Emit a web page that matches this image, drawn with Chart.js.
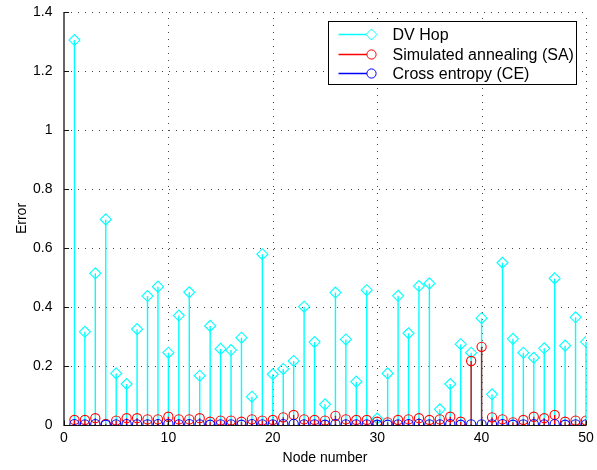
<!DOCTYPE html>
<html>
<head>
<meta charset="utf-8">
<script src="https://cdn.jsdelivr.net/npm/chart.js@4/dist/chart.umd.min.js"></script>
<style>
  html, body { margin: 0; padding: 0; background: #fff; }
  #wrap { width: 597px; height: 470px; position: relative; }
</style>
</head>
<body>
<div id="wrap"><canvas id="c" width="597" height="470"></canvas></div>
<script>
// Localization error per node for three methods
const nodes = Array.from({length: 50}, (_, i) => i + 1);
const dvHop = [1.305, 0.316, 0.514, 0.697, 0.175, 0.139, 0.325, 0.437, 0.469, 0.245,
               0.371, 0.450, 0.167, 0.336, 0.258, 0.254, 0.296, 0.096, 0.579, 0.172,
               0.190, 0.217, 0.401, 0.281, 0.070, 0.449, 0.290, 0.147, 0.457, 0.022,
               0.175, 0.438, 0.311, 0.471, 0.480, 0.053, 0.139, 0.274, 0.245, 0.362,
               0.104, 0.550, 0.292, 0.245, 0.228, 0.260, 0.497, 0.269, 0.365, 0.282];
const saErr = [0.017, 0.017, 0.023, 0.004, 0.015, 0.023, 0.023, 0.019, 0.019, 0.028,
               0.019, 0.019, 0.023, 0.011, 0.015, 0.015, 0.011, 0.019, 0.015, 0.017,
               0.026, 0.034, 0.019, 0.017, 0.015, 0.031, 0.019, 0.017, 0.017, 0.011,
               0.009, 0.017, 0.019, 0.023, 0.017, 0.019, 0.028, 0.011, 0.217, 0.265,
               0.026, 0.019, 0.009, 0.017, 0.028, 0.023, 0.034, 0.011, 0.015, 0.015];
const ceErr = [0.003, 0.002, 0.003, 0.001, 0.002, 0.003, 0.002, 0.002, 0.003, 0.004,
               0.002, 0.003, 0.002, 0.001, 0.002, 0.002, 0.001, 0.003, 0.002, 0.002,
               0.003, 0.004, 0.002, 0.002, 0.001, 0.003, 0.002, 0.002, 0.002, 0.001,
               0.001, 0.002, 0.003, 0.004, 0.002, 0.002, 0.003, 0.001, 0.002, 0.002,
               0.002, 0.003, 0.001, 0.002, 0.003, 0.002, 0.003, 0.001, 0.002, 0.002];

const seriesNames = ['DV Hop', 'Simulated annealing (SA)', 'Cross entropy (CE)'];
const xTicks = [0, 10, 20, 30, 40, 50];
const yTicks = [0, 0.2, 0.4, 0.6, 0.8, 1.0, 1.2, 1.4];

const FONT = 'Liberation Sans, Arial, Helvetica, sans-serif';
const colors = ['#00ffff', '#ff0000', '#0000ff'];
const styles = ['rectRot', 'circle', 'circle'];
const radii = [5.5, 4.6, 4.6];

function pts(arr) { return nodes.map((n, i) => ({x: n, y: arr[i]})); }

// Dotted grid, zero baseline and stems (each dataset's stems go right under its markers)
const stemPlugin = {
  id: 'stems',
  beforeDatasetsDraw(chart) {
    const {ctx, chartArea: a, scales: {x, y}} = chart;
    ctx.save();
    ctx.strokeStyle = '#444';
    ctx.lineWidth = 1;
    ctx.setLineDash([1, 6]);
    ctx.beginPath();
    xTicks.slice(1).forEach(v => {
      const px = Math.round(x.getPixelForValue(v)) + 0.5;
      ctx.moveTo(px, a.bottom); ctx.lineTo(px, a.top);
    });
    yTicks.slice(1).forEach(v => {
      const py = Math.round(y.getPixelForValue(v)) + 0.5;
      ctx.moveTo(a.left, py); ctx.lineTo(a.right, py);
    });
    ctx.stroke();
    ctx.setLineDash([]);
    const y0 = Math.round(y.getPixelForValue(0)) + 0.5;
    ctx.strokeStyle = '#000';
    ctx.beginPath();
    ctx.moveTo(x.getPixelForValue(0), y0);
    ctx.lineTo(x.getPixelForValue(50), y0);
    ctx.stroke();
    ctx.restore();
  },
  beforeDatasetDraw(chart, args) {
    const {ctx, scales: {y}} = chart;
    const meta = args.meta;
    const ds = chart.data.datasets[args.index];
    const y0 = y.getPixelForValue(0);
    ctx.save();
    ctx.strokeStyle = ds.borderColor;
    ctx.lineWidth = 1.4;
    ctx.beginPath();
    meta.data.forEach(pt => {
      ctx.moveTo(pt.x, y0);
      ctx.lineTo(pt.x, pt.y);
    });
    ctx.stroke();
    ctx.restore();
  }
};

// Left/bottom axis lines with inward tick marks
const axesPlugin = {
  id: 'axesLines',
  afterDatasetsDraw(chart) {
    const {ctx, chartArea: a, scales: {x, y}} = chart;
    ctx.save();
    const L = Math.round(a.left), B = Math.round(a.bottom) + 0.5;
    ctx.strokeStyle = '#666';
    ctx.lineWidth = 2;
    ctx.beginPath();
    ctx.moveTo(L, a.top); ctx.lineTo(L, B + 0.5);
    ctx.stroke();
    ctx.strokeStyle = '#111';
    ctx.lineWidth = 1;
    ctx.beginPath();
    ctx.moveTo(L, B); ctx.lineTo(a.right, B);
    yTicks.forEach(v => {
      const py = Math.round(y.getPixelForValue(v)) + 0.5;
      ctx.moveTo(L, py); ctx.lineTo(L + 5, py);
    });
    xTicks.forEach(v => {
      const px = Math.round(x.getPixelForValue(v)) + 0.5;
      ctx.moveTo(px, B); ctx.lineTo(px, B - 5);
    });
    ctx.stroke();
    ctx.restore();
  }
};

// Boxed legend in the upper right with line + marker samples
const legendPlugin = {
  id: 'boxLegend',
  afterDraw(chart) {
    const {ctx, chartArea: a} = chart;
    const w = 248, h = 63;
    const bx = Math.round(a.right - 10 - w) + 0.5, by = Math.round(a.top + 9) + 0.5;
    ctx.save();
    ctx.fillStyle = '#fff';
    ctx.fillRect(bx, by, w, h);
    ctx.strokeStyle = '#000';
    ctx.lineWidth = 1;
    ctx.strokeRect(bx, by, w, h);
    ctx.font = '16px ' + FONT;
    ctx.textBaseline = 'middle';
    seriesNames.forEach((name, i) => {
      const ly = Math.round(by + 12.5 + i * 19.7) + 0.5;
      const x1 = bx + 10, x2 = bx + 43;
      ctx.strokeStyle = colors[i];
      ctx.lineWidth = 1.4;
      ctx.beginPath(); ctx.moveTo(x1, ly); ctx.lineTo(x2, ly); ctx.stroke();
      ctx.fillStyle = '#fff';
      ctx.lineWidth = 1;
      Chart.helpers.drawPoint(ctx, {pointStyle: styles[i], radius: radii[i], borderWidth: 1}, x2, ly);
      ctx.fillStyle = '#000';
      ctx.fillText(name, bx + 64, ly + 1);
    });
    ctx.restore();
  }
};

const datasets = [dvHop, saErr, ceErr].map((arr, i) => ({
  label: seriesNames[i],
  data: pts(arr),
  showLine: false,
  pointStyle: styles[i],
  pointRadius: radii[i],
  pointHoverRadius: radii[i],
  pointBorderWidth: 1.1,
  borderColor: colors[i],
  backgroundColor: 'rgba(0,0,0,0)',
  pointBackgroundColor: 'rgba(0,0,0,0)',
  order: 3 - i
}));

new Chart(document.getElementById('c'), {
  type: 'scatter',
  data: { datasets },
  options: {
    responsive: false,
    animation: false,
    devicePixelRatio: 1,
    layout: { padding: { left: 0, right: 11, top: 12, bottom: 0 } },
    plugins: { legend: { display: false }, tooltip: { enabled: false } },
    scales: {
      x: {
        type: 'linear', min: 0, max: 50,
        afterBuildTicks: s => { s.ticks = xTicks.map(v => ({value: v})); },
        afterFit: s => { s.height = 45; s.paddingLeft = 0; s.paddingRight = 0; },
        grid: { display: false, drawTicks: false },
        border: { display: false },
        ticks: { color: '#000', font: { family: FONT, size: 14 }, padding: 5, maxRotation: 0 },
        title: { display: true, text: 'Node number', color: '#000',
                 font: { family: FONT, size: 14 }, padding: { top: 0, bottom: 3.6 } }
      },
      y: {
        type: 'linear', min: 0, max: 1.4,
        afterBuildTicks: s => { s.ticks = yTicks.map(v => ({value: v})); },
        afterFit: s => { s.width = 64; s.paddingTop = 0; s.paddingBottom = 0; },
        grid: { display: false, drawTicks: false },
        border: { display: false },
        ticks: { color: '#000', font: { family: FONT, size: 14 }, padding: 11.5,
                 callback: v => String(Math.round(v * 10) / 10) },
        title: { display: true, text: 'Error', color: '#000',
                 font: { family: FONT, size: 14 }, padding: { top: 13.6, bottom: 0 } }
      }
    }
  },
  plugins: [stemPlugin, axesPlugin, legendPlugin]
});
</script>
</body>
</html>
